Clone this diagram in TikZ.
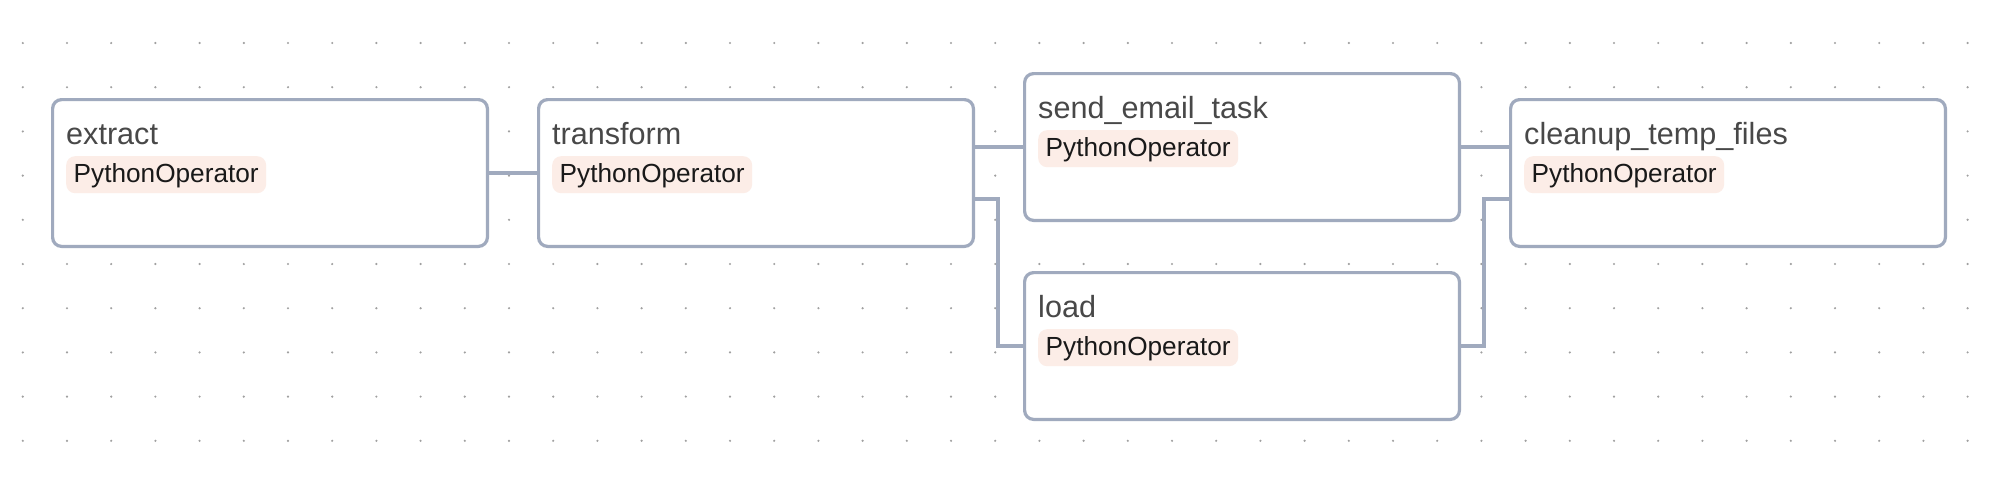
\documentclass[tikz,border=0pt]{standalone}
\usepackage{fontspec}
\setmainfont{Liberation Sans}
\usetikzlibrary{positioning}
\definecolor{edgegray}{RGB}{160,170,190}
\definecolor{badgepink}{RGB}{252,237,231}
\definecolor{namegray}{RGB}{72,72,72}
\definecolor{dotgray}{RGB}{160,160,160}

\begin{document}
\begin{tikzpicture}
    [%%%%%%%%%%%%%%%%%%%%%%%%%%%%%%
        x=1pt, y=-1pt,
        task/.style={rectangle,draw=edgegray,line width=3.2pt,fill=white,rounded corners=9pt,minimum width=434.8pt,minimum height=146.8pt},
        taskname/.style={inner sep=0pt,anchor=base west,text=namegray,font=\fontsize{30.6}{36}\selectfont},
        badge/.style={rectangle,fill=badgepink,rounded corners=9pt,anchor=north west,inner xsep=7.5pt,inner ysep=5.5pt,text height=21pt,text depth=5pt,text=black!90,font=\fontsize{26.2}{32}\selectfont},
        link/.style={draw=edgegray,line width=3.6pt},
    ]%%%%%%%%%%%%%%%%%%%%%%%%%%%%%%

\useasboundingbox (0,0) rectangle (1990,482);
\fill[white] (0,0) rectangle (1990,482);

\foreach \i in {0,1,...,44}{
    \foreach \j in {0,1,...,9}
        \fill[dotgray] (22.8+44.2*\i,43+44.2*\j) circle (1.2pt);
}

\foreach \id/\x/\y/\txt in {extract/270/173/extract,transform/756/173/transform,send/1242/147/send\_email\_task,load/1242/346/load,cleanup/1728/173/cleanup\_temp\_files}{
    \node[task] (\id) at (\x,\y){};
    \node[taskname] (\id-name) at ([xshift=15pt,yshift=-46pt]\id.north west){\txt};
    \node[badge] (\id-op) at ([xshift=15pt,yshift=-58pt]\id.north west){PythonOperator};
}

\draw[link] (extract.east) -- (transform.west);
\draw[link] (transform.east |- send.west) -- (send.west);
\draw[link] ([yshift=-26pt]transform.east) -- ++(23,0) |- (load.west);
\draw[link] (send.east) -- ([yshift=26pt]cleanup.west);
\draw[link] (load.east) -- ++(23,0) |- ([yshift=-26pt]cleanup.west);
\end{tikzpicture}
\end{document}
